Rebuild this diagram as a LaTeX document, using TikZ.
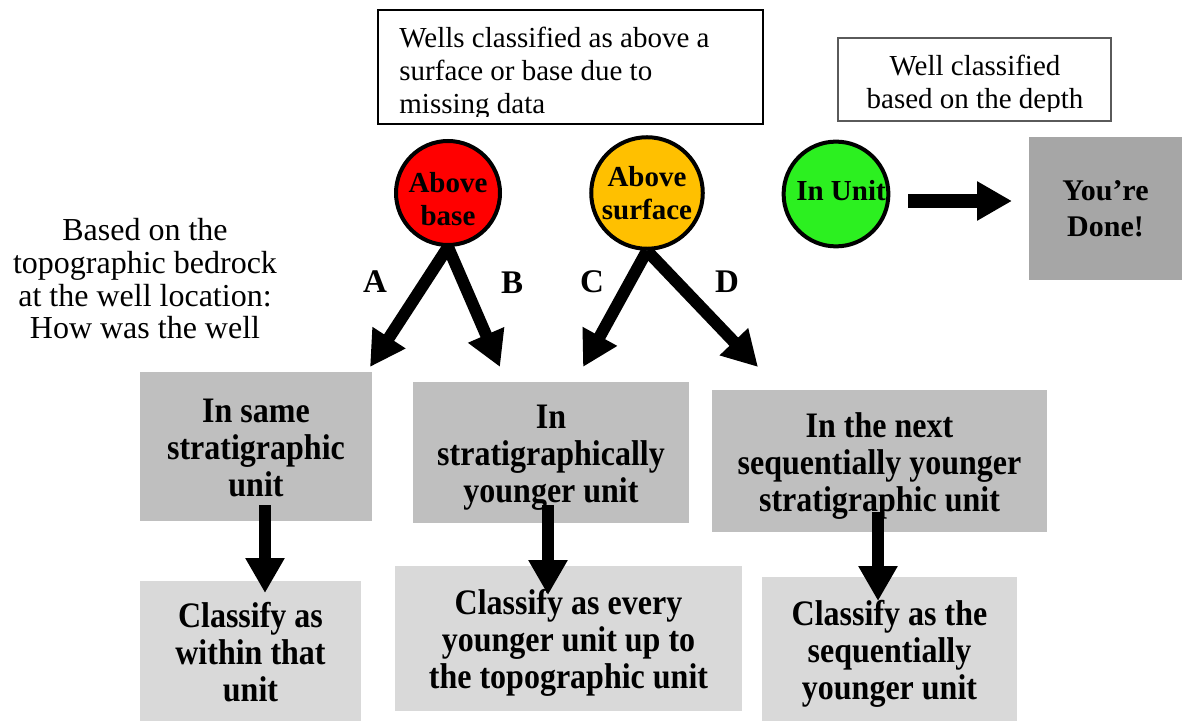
\documentclass[tikz,border=0pt]{standalone}
\usepackage{fontspec}
\setmainfont{Liberation Serif}
\usepackage{graphicx}
\usetikzlibrary{arrows.meta}

\definecolor{boxdark}{HTML}{BFBFBF}
\definecolor{boxlight}{HTML}{D9D9D9}
\definecolor{donegray}{HTML}{A6A6A6}
\definecolor{redc}{HTML}{FF0000}
\definecolor{orangec}{HTML}{FFC000}
\definecolor{greenc}{RGB}{44,240,32}
\definecolor{frameg}{RGB}{90,90,90}

\newcommand{\talltext}[1]{\raisebox{-3pt}[\height][\depth]{\scalebox{1}[1.12]{\begin{tabular}{@{}c@{}}#1\end{tabular}}}}
\newcommand{\stack}[2]{\raisebox{#1}[\height][\depth]{\begin{tabular}{@{}c@{}}#2\end{tabular}}}

\begin{document}
\begin{tikzpicture}[x=0.5pt,y=-0.5pt,
  darkbox/.style={fill=boxdark, inner sep=0pt, font=\bfseries\fontsize{16}{16.5}\selectfont},
  lightbox/.style={fill=boxlight, inner sep=0pt, font=\bfseries\fontsize{16}{16.5}\selectfont},
  circ/.style={circle, draw=black, line width=2pt, minimum size=52pt, inner sep=0pt, font=\bfseries\fontsize{14.5}{16.5}\selectfont},
  plaintext/.style={inner sep=0pt, font=\fontsize{14.5}{16.5}\selectfont},
  lbl/.style={inner sep=0pt, font=\bfseries\fontsize{16.5}{18}\selectfont},
  bigarrow/.style={line width=6pt, -{Triangle[length=17.5pt,width=18.5pt]}}
]
\useasboundingbox (0,0) rectangle (1182,721);

% top-left note box
\node[draw=black, line width=0.75pt, minimum width=192.5pt, minimum height=57pt, inner sep=0pt] (wbox) at (570.5,67) {};
\begin{scope}
\clip (378,10) rectangle (763,117);
\node[plaintext, anchor=base west, align=left] (wtext) at (399,114) {Wells classified as above a\\surface or base due to\\missing data};
\end{scope}

% top-right note box
\node[draw=frameg, line width=0.6pt, minimum width=136.5pt, minimum height=41.5pt, inner sep=0pt] (dbox) at (974.5,79.5) {};
\begin{scope}
\clip (838,38) rectangle (1111,112);
\node[plaintext, anchor=base, align=center] (dtext) at (975,109) {Well classified\\based on the depth};
\end{scope}

% left question text
\node[inner sep=0pt, anchor=base, align=center, font=\fontsize{16}{16.4}\selectfont] (qtext) at (145,339) {Based on the\\topographic bedrock\\at the well location:\\How was the well};

% circles
\node[circ, fill=redc] (red) at (448,193) {\stack{-4.5pt}{Above\\base}};
\node[circ, fill=orangec] (orange) at (647,193) {\stack{-1.5pt}{Above\\surface}};
\node[circ, fill=greenc] (green) at (836,194) {\stack{0pt}{\hspace*{5pt}In Unit}};

% done box
\node[fill=donegray, minimum width=76.5pt, minimum height=71.5pt, inner sep=0pt, align=center, font=\bfseries\fontsize{15}{18}\selectfont] (done) at (1105.5,208.5) {You’re\\Done!};

% branch labels
\node[lbl] (la) at (375,282) {A};
\node[lbl] (lb) at (512,283) {B};
\node[lbl] (lc) at (592,282) {C};
\node[lbl] (ld) at (727,282) {D};

% result boxes
\node[darkbox, minimum width=116pt, minimum height=74.5pt] (b1) at (256,446.5) {\talltext{In same\\stratigraphic\\unit}};
\node[darkbox, minimum width=138pt, minimum height=70.5pt] (b2) at (551,452.5) {\talltext{In\\stratigraphically\\younger unit}};
\node[darkbox, minimum width=167.5pt, minimum height=71pt] (b3) at (879.5,461) {\talltext{In the next\\sequentially younger\\stratigraphic unit}};

\node[lightbox, minimum width=110.5pt, minimum height=70pt] (c1) at (250.5,651) {\talltext{Classify as\\within that\\unit}};
\node[lightbox, minimum width=173.5pt, minimum height=72.5pt] (c2) at (568.5,638.5) {\talltext{Classify as every\\younger unit up to\\the topographic unit}};
\node[lightbox, minimum width=127.5pt, minimum height=72pt] (c3) at (889.5,649) {\talltext{Classify as the\\sequentially\\younger unit}};

% arrow end points
\coordinate (tA) at (370,367);
\coordinate (tB) at (500,367);
\coordinate (tC) at (583,367);
\coordinate (tD) at (758,367);
\coordinate (s1) at (265,505);
\coordinate (e1) at (265,593);
\coordinate (s2) at (548,505);
\coordinate (e2) at (548,595);
\coordinate (s3) at (878,512);
\coordinate (e3) at (878,601);
\coordinate (g0) at (908,201);
\coordinate (g1) at (1012,201);

% arrows
\draw[bigarrow] (red.south) -- (tA);
\draw[bigarrow] (red.south) -- (tB);
\draw[bigarrow] (orange.south) -- (tC);
\draw[bigarrow] (orange.south) -- (tD);
\draw[bigarrow] (s1) -- (e1);
\draw[bigarrow] (s2) -- (e2);
\draw[bigarrow] (s3) -- (e3);
\draw[bigarrow, line width=7pt] (g0) -- (g1);
\end{tikzpicture}
\end{document}
